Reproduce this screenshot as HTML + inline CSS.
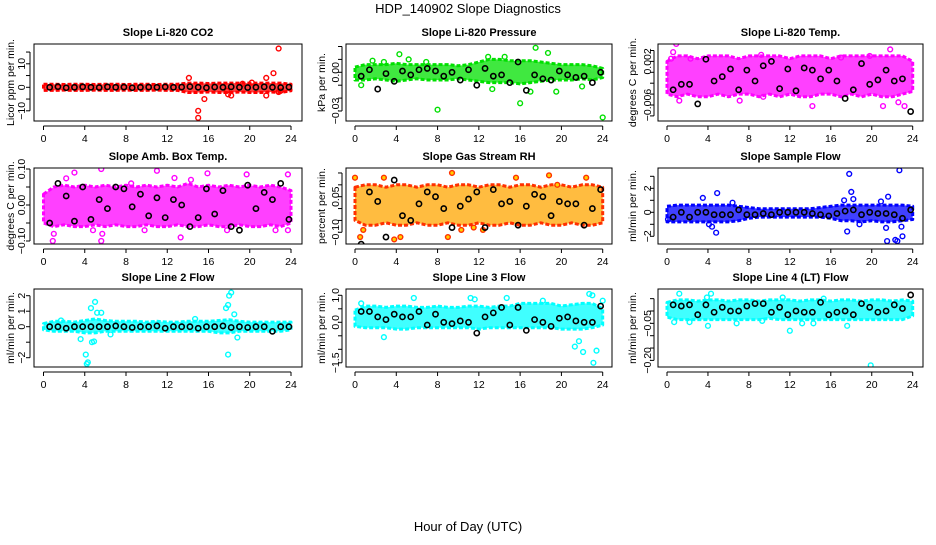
<!DOCTYPE html>
<html><head><meta charset="utf-8">
<style>
body{margin:0;background:#fff;}
svg text{font-family:"Liberation Sans",Arial,sans-serif;}
</style></head>
<body>
<svg id="chart" width="936" height="540" viewBox="0 0 936 540" xmlns="http://www.w3.org/2000/svg">
<text x="468" y="13" text-anchor="middle" font-size="13">HDP_140902  Slope Diagnostics</text>
<text x="468" y="531" text-anchor="middle" font-size="13">Hour of Day (UTC)</text>
</svg>
<script>
// ---- shared data ----
const bandHours = [0,1,2,3,4,5,6,7,8,9,10,11,12,13,14,15,16,17,18,19,20,21,22,23,24];
const blackHours = [0.6,1.4,2.2,3.0,3.8,4.6,5.4,6.2,7.0,7.8,8.6,9.4,10.2,11.0,11.8,12.6,13.4,14.2,15.0,15.8,16.6,17.4,18.2,19.0,19.8,20.6,21.4,22.2,23.0,23.8];
const xTicks = [0,4,8,12,16,20,24];

// ---- CO2 ----
const co2Lo = [-1.3,-1.3,-1.2,-1.3,-1.3,-1.2,-1.3,-1.3,-1.2,-1.3,-1.3,-1.2,-1.3,-1.3,-2.2,-2.2,-2,-2.2,-2.2,-2,-2.2,-2.2,-2,-2.2,-1.5];
const co2Hi = [1.3,1.3,1.2,1.3,1.3,1.2,1.3,1.3,1.2,1.3,1.3,1.2,1.3,1.3,1.8,1.8,1.6,1.8,1.8,1.8,1.8,1.8,1.8,1.8,1.3];
const co2Out = [[14.1,4],[15,-10],[15,-13],[15.6,-5],[17.9,-3],[18.2,-3.5],[21.6,4],[21.6,-3.5],[22.3,6],[22.8,16.5],[20.2,2],[22.8,-2],[17.8,-1.5],[19.3,1.5],[23,-1.5]];
const co2Black = [0,0.3,-0.2,0,0.2,0,-0.1,0.2,0,0.1,-0.2,0,0.1,0,0.2,0,0.1,0.3,0,-0.2,0.1,0,0.2,0,-0.1,0,0.2,0,-0.1,0.1];
// ---- Pressure ----
const presLo = [-0.006,-0.006,-0.005,-0.006,-0.007,-0.006,-0.005,-0.006,-0.006,-0.006,-0.005,-0.006,-0.007,-0.008,-0.008,-0.008,-0.009,-0.008,-0.007,-0.006,-0.006,-0.006,-0.005,-0.006,-0.004];
const presHi = [0.004,0.006,0.006,0.006,0.007,0.006,0.006,0.006,0.006,0.006,0.005,0.006,0.008,0.010,0.010,0.009,0.009,0.009,0.008,0.007,0.006,0.006,0.006,0.005,0.003];
const presOut = [[4.3,0.014],[5.2,0.010],[8,-0.029],[16,-0.024],[17.5,0.019],[18.7,0.015],[24,-0.035],[13.3,-0.013],[17,-0.015],[0.6,-0.010],[1.7,0.009],[14.5,0.012],[12.9,0.012],[19.5,-0.015],[22,-0.011],[2.8,0.008],[6.9,0.008]];
const presBlack = [-0.003,0.002,-0.013,-0.001,-0.007,0.001,-0.002,0.002,0.003,0.001,-0.003,0,-0.006,0.002,-0.010,0.003,-0.003,-0.002,-0.008,0.008,-0.014,-0.002,-0.005,-0.006,0.001,-0.002,-0.004,-0.003,-0.008,0];
// ---- Li-820 Temp ----
const tempLo = [-0.004,-0.0045,-0.004,-0.0045,-0.0045,-0.004,-0.0045,-0.004,-0.004,-0.0045,-0.004,-0.0045,-0.004,-0.0045,-0.0045,-0.004,-0.004,-0.0045,-0.004,-0.0045,-0.004,-0.0045,-0.0045,-0.004,-0.0035];
const tempHi = [0.002,0.003,0.003,0.0025,0.003,0.003,0.003,0.0025,0.003,0.003,0.003,0.003,0.0025,0.003,0.003,0.003,0.0025,0.003,0.003,0.003,0.003,0.003,0.003,0.003,0.002];
const tempOut = [[0.9,0.0052],[0.6,0.0037],[17,0.0027],[21.8,0.0042],[14.2,-0.0062],[21.1,-0.0062],[23.2,-0.0062],[7.1,-0.0052],[9.2,0.0032],[19.8,0.003],[0.4,0.0025],[1.2,-0.0052],[22.6,-0.0055],[9.4,-0.0045],[2.3,0.0025]];
const tempBlack = [-0.0032,-0.0022,-0.0022,-0.0058,0.0024,-0.0016,-0.0008,0.0006,-0.0032,0.0004,-0.0016,0.0012,0.002,-0.003,0.0006,-0.0034,0.0008,0.0004,-0.0012,0.0004,-0.0016,-0.0048,-0.0032,0.0016,-0.0022,-0.0014,0.0004,-0.0016,-0.0012,-0.0072];
// ---- Amb Box Temp ----
const ambLo = [-0.05,-0.06,-0.055,-0.06,-0.06,-0.055,-0.06,-0.055,-0.06,-0.06,-0.055,-0.06,-0.06,-0.055,-0.06,-0.06,-0.055,-0.06,-0.06,-0.055,-0.06,-0.06,-0.055,-0.06,-0.05];
const ambHi = [0.03,0.05,0.055,0.05,0.055,0.05,0.055,0.05,0.055,0.05,0.055,0.05,0.055,0.05,0.06,0.05,0.055,0.05,0.055,0.05,0.055,0.05,0.055,0.05,0.04];
const ambOut = [[0.9,-0.1],[1,-0.08],[3,0.09],[5.6,-0.1],[5.7,-0.08],[5.6,0.1],[11,0.095],[15.9,0.088],[19.7,0.085],[2.2,0.074],[13.3,-0.09],[23.7,0.085],[23.7,-0.07],[14.3,0.07],[4.8,-0.07],[9.8,-0.07],[17.8,-0.07],[12.7,0.075],[8.5,0.06],[22.5,-0.07]];
const ambBlack = [-0.05,0.06,0.025,-0.045,0.05,-0.04,0.015,-0.01,0.05,0.045,-0.005,0.03,-0.03,0.02,-0.035,0.015,0,-0.06,-0.035,0.045,-0.025,0.04,-0.06,-0.07,0.055,-0.01,0.035,0.015,0.06,-0.04];
// ---- Gas Stream RH ----
const rhLo = [-0.05,-0.07,-0.07,-0.06,-0.07,-0.07,-0.06,-0.07,-0.07,-0.06,-0.07,-0.07,-0.06,-0.07,-0.07,-0.06,-0.07,-0.07,-0.06,-0.07,-0.07,-0.06,-0.07,-0.07,-0.06];
const rhHi = [0.09,0.10,0.10,0.09,0.10,0.10,0.09,0.10,0.10,0.09,0.10,0.10,0.09,0.10,0.10,0.09,0.10,0.10,0.09,0.10,0.10,0.09,0.10,0.10,0.09];
const rhOut = [[0,0.13],[2.8,0.13],[9.4,0.15],[18.8,0.14],[22.4,0.13],[0.5,-0.12],[0.8,-0.09],[3.8,-0.13],[4.4,-0.12],[9,-0.12],[10.3,-0.09],[11.5,-0.08],[12.4,-0.09],[15.6,0.13],[19.6,0.1]];
const rhBlack = [-0.15,0.07,0.03,-0.12,0.12,-0.03,-0.05,0.02,0.07,0.05,0,-0.08,0.01,0.04,0.07,-0.08,0.08,0.02,0.03,-0.07,0.01,0.06,0.05,-0.03,0.03,0.02,0.02,-0.07,0,0.08];
// ---- Sample Flow ----
const sampLo = [-0.8,-0.8,-0.8,-0.8,-0.8,-0.8,-0.8,-0.7,-0.5,-0.4,-0.4,-0.4,-0.4,-0.4,-0.4,-0.4,-0.5,-0.7,-0.7,-0.8,-0.7,-0.8,-0.8,-0.7,-0.6];
const sampHi = [0.5,0.6,0.6,0.6,0.6,0.6,0.6,0.5,0.4,0.3,0.3,0.3,0.3,0.3,0.3,0.4,0.5,0.6,0.6,0.6,0.6,0.6,0.6,0.6,0.5];
const sampOut = [[17.8,3.2],[22.7,3.5],[18,1.7],[4.9,1.6],[3.5,1.2],[17.6,-1.6],[4.8,-1.7],[4.4,-1.2],[4.1,-1],[18.8,-1],[21.5,-2.4],[22.3,-2.3],[22.5,-2.4],[23,-2],[21.4,-1.3],[22.9,-1.2],[21.6,1.3],[17.3,1],[6.4,0.8],[20.9,0.9],[18.2,1.1],[0.1,-0.6]];
const sampBlack = [-0.4,0,-0.4,0,0,-0.2,-0.2,-0.2,0.2,-0.2,-0.2,-0.1,-0.2,0,0,0,0,-0.1,-0.2,-0.3,-0.1,0.1,0.2,-0.2,0,-0.1,-0.1,-0.2,-0.5,0.2];
// ---- Line 2 Flow ----
const l2Lo = [-0.2,-0.3,-0.3,-0.3,-0.4,-0.4,-0.3,-0.3,-0.3,-0.3,-0.3,-0.3,-0.3,-0.3,-0.3,-0.3,-0.3,-0.4,-0.4,-0.3,-0.3,-0.3,-0.3,-0.3,-0.2];
const l2Hi = [0.2,0.35,0.35,0.3,0.4,0.5,0.4,0.35,0.35,0.35,0.3,0.35,0.3,0.3,0.35,0.35,0.35,0.4,0.45,0.35,0.3,0.3,0.3,0.3,0.3];
const l2Out = [[4.1,-1.8],[4.3,-2.3],[4.2,-2.4],[4.6,1.2],[5,1.6],[5.2,0.9],[4.7,-1],[4.9,-0.95],[3.6,-0.8],[17.9,-1.8],[18,2],[18.2,2.2],[17.7,1.2],[17.9,1.4],[18.5,0.8],[18.8,-0.7],[6.5,-0.5],[1.7,0.4],[14.7,0.5],[5.6,0.9]];
const l2Black = [0,0,-0.1,0,0,0,0,0,0.05,0,-0.05,0,0,0.05,-0.1,0,0,0,-0.1,0,0,0.05,-0.05,0,-0.05,0,0,-0.3,0,0];
// ---- Line 3 Flow ----
const l3Lo = [-0.15,-0.2,-0.2,-0.2,-0.25,-0.25,-0.2,-0.2,-0.2,-0.2,-0.2,-0.2,-0.25,-0.2,-0.2,-0.2,-0.2,-0.2,-0.2,-0.2,-0.25,-0.25,-0.25,-0.2,-0.1];
const l3Hi = [0.45,0.6,0.6,0.55,0.6,0.6,0.55,0.55,0.6,0.55,0.55,0.6,0.6,0.55,0.6,0.6,0.7,0.7,0.7,0.7,0.6,0.65,0.7,0.7,0.5];
const l3Out = [[2.8,-0.55],[5.7,0.9],[11.2,0.9],[14.7,0.9],[21.3,-0.9],[21.7,-0.7],[22.1,-1.1],[23.1,-1.5],[23.4,-1.05],[22.7,1.05],[23,1],[0.6,0.7],[24,0.8],[11.6,0.85],[18.2,0.8]];
const l3Black = [0.4,0.4,0.2,0.1,0.3,0.2,0.2,0.4,-0.1,0.3,0,-0.05,0.05,0,-0.4,0.2,0.35,0.55,-0.1,0.55,-0.3,0.1,0,-0.15,0.15,0.2,0.05,0,0,0.6];
// ---- Line 4 Flow ----
const l4Lo = [-0.025,-0.035,-0.035,-0.035,-0.035,-0.035,-0.035,-0.035,-0.035,-0.035,-0.03,-0.035,-0.035,-0.035,-0.035,-0.035,-0.035,-0.035,-0.035,-0.035,-0.035,-0.035,-0.035,-0.035,-0.02];
const l4Hi = [0.035,0.045,0.045,0.04,0.045,0.045,0.04,0.045,0.045,0.04,0.045,0.045,0.045,0.04,0.045,0.045,0.04,0.045,0.045,0.04,0.045,0.045,0.04,0.045,0.04];
const l4Out = [[1.2,0.07],[4.3,0.07],[3.9,0.055],[0.7,-0.045],[4,-0.06],[6.8,-0.05],[12,-0.08],[19.9,-0.22],[17.6,-0.06],[13.2,-0.05],[14.3,-0.05],[9.3,-0.04],[2.2,-0.045],[11.3,0.055],[15.3,0.05]];
const l4Black = [0.025,0.02,0.025,-0.015,0.025,-0.005,0.015,0,0,0.02,0.03,0.03,-0.005,0.015,-0.015,0,-0.005,-0.005,0.035,-0.015,-0.005,0,-0.015,0.03,0.015,-0.005,0,0.025,0.01,0.065];

// ---- layout (pixels, not data) ----
const cols = [{l:34,r:302,x0:43.5,x24:291,yl:21,yt:10},{l:346,r:612,x0:355,x24:602.7,yl:335,yt:321},{l:658,r:923,x0:667,x24:912.7,yl:647,yt:632}];
const rows = [{t:44,b:121,tt:36},{t:168,b:244,tt:160},{t:289,b:367,tt:281}];
const panels = [
 {c:0,r:0,key:'co2',title:'Slope Li-820 CO2',ylab:'Licor ppm per min.',col:'#ff0000',lo:co2Lo,hi:co2Hi,out:co2Out,blk:co2Black,ref:[0,87.3,10,63.8],ticks:[15,10,5,0,-5,-10],labs:[10,0,-10],fmt:v=>v<0?'\u2212'+(-v):String(v)},
 {c:1,r:0,key:'pressure',title:'Slope Li-820 Pressure',ylab:'kPa per min.',col:'#00e000',lo:presLo,hi:presHi,out:presOut,blk:presBlack,ref:[0,72.3,-0.03,111],ticks:[0.02,0.01,0,-0.01,-0.02,-0.03],labs:[0,-0.03],fmt:v=>v<0?'\u2212'+(-v).toFixed(2):v.toFixed(2)},
 {c:2,r:0,key:'temp',title:'Slope Li-820 Temp.',ylab:'degrees C per min.',col:'#ff00ff',lo:tempLo,hi:tempHi,out:tempOut,blk:tempBlack,ref:[0,72.3,-0.006,105],ticks:[0.004,0.002,0,-0.002,-0.004,-0.006,-0.008],labs:[0.002,-0.006],fmt:v=>v<0?'\u2212'+(-v).toFixed(3):v.toFixed(3)},
 {c:0,r:1,key:'ambbox',title:'Slope Amb. Box Temp.',ylab:'degrees C per min.',col:'#ff00ff',lo:ambLo,hi:ambHi,out:ambOut,blk:ambBlack,ref:[0,205,0.1,169],ticks:[0.1,0.05,0,-0.05,-0.1],labs:[0.1,0,-0.1],fmt:v=>v<0?'\u2212'+(-v).toFixed(2):v.toFixed(2)},
 {c:1,r:1,key:'rh',title:'Slope Gas Stream RH',ylab:'percent per min.',col:'#ffa500',edge:'#ff3000',lo:rhLo,hi:rhHi,out:rhOut,blk:rhBlack,ref:[0.05,196.7,-0.1,232.3],ticks:[0.15,0.1,0.05,0,-0.05,-0.1],labs:[0.05,-0.1],fmt:v=>v<0?'\u2212'+(-v).toFixed(2):v.toFixed(2)},
 {c:2,r:1,key:'sampleflow',title:'Slope Sample Flow',ylab:'ml/min per min.',col:'#0000ff',lo:sampLo,hi:sampHi,out:sampOut,blk:sampBlack,ref:[0,212.3,2,188.3],ticks:[3,2,1,0,-1,-2],labs:[2,0,-2],fmt:v=>v<0?'\u2212'+(-v):String(v)},
 {c:0,r:2,key:'line2',title:'Slope Line 2 Flow',ylab:'ml/min per min.',col:'#00ffff',lo:l2Lo,hi:l2Hi,out:l2Out,blk:l2Black,ref:[0,326.7,2,295.7],ticks:[2,1,0,-1,-2],labs:[2,1,0,-2],fmt:v=>v<0?'\u2212'+(-v):String(v)},
 {c:1,r:2,key:'line3',title:'Slope Line 3 Flow',ylab:'ml/min per min.',col:'#00ffff',lo:l3Lo,hi:l3Hi,out:l3Out,blk:l3Black,ref:[0,322.3,1,295.3],ticks:[1,0.5,0,-0.5,-1,-1.5],labs:[1,0,-1.5],fmt:v=>v<0?'\u2212'+(-v).toFixed(1):v.toFixed(1)},
 {c:2,r:2,key:'line4',title:'Slope Line 4 (LT) Flow',ylab:'ml/min per min.',col:'#00ffff',lo:l4Lo,hi:l4Hi,out:l4Out,blk:l4Black,ref:[0,311,-0.2,360.4],ticks:[0.05,0,-0.05,-0.1,-0.15,-0.2],labs:[-0.05,-0.2],fmt:v=>v<0?'\u2212'+(-v).toFixed(2):v.toFixed(2)}
];

const svg = document.getElementById('chart');
const NS = 'http://www.w3.org/2000/svg';
function mk(tag, attrs, parent){const e=document.createElementNS(NS,tag);for(const k in attrs)e.setAttribute(k,attrs[k]);(parent||svg).appendChild(e);return e;}

panels.forEach(p=>{
  const C=cols[p.c], R=rows[p.r];
  const g=mk('g',{});
  
  
  const xs=h=>C.x0+(C.x24-C.x0)*h/24;
  const [v0,p0,v1,p1]=p.ref;
  const ys=v=>p0+(p1-p0)*(v-v0)/(v1-v0);
  const clip='clip-'+p.key;
  const cp=mk('clipPath',{id:clip},g); mk('rect',{x:C.l,y:R.t,width:C.r-C.l,height:R.b-R.t},cp);
  const plot=mk('g',{'clip-path':'url(#'+clip+')'},g);
  let d='';
  bandHours.forEach((h,i)=>{d+=(i?'L':'M')+xs(h).toFixed(1)+','+ys(p.hi[i]).toFixed(1);});
  for(let i=bandHours.length-1;i>=0;i--) d+='L'+xs(bandHours[i]).toFixed(1)+','+ys(p.lo[i]).toFixed(1);
  const band=mk('path',{d:d+'Z',fill:p.col,'fill-opacity':0.75,stroke:p.edge||p.col,'stroke-width':3,'stroke-linejoin':'round','stroke-dasharray':'4 2'},plot);
  
  
  p.out.forEach(([h,v])=>{
    const c=mk('circle',{cx:xs(h),cy:ys(v),r:2.4,fill:p.edge?'#ffd000':'none',stroke:p.edge||p.col,'stroke-width':1.4},plot);
    
    
  });
  blackHours.forEach((h,i)=>{
    const c=mk('circle',{cx:xs(h),cy:ys(p.blk[i]),r:2.6,fill:'none',stroke:'#000','stroke-width':1.6},plot);
    
    
  });
  const box=mk('rect',{x:C.l,y:R.t,width:C.r-C.l,height:R.b-R.t,fill:'none',stroke:'#000','stroke-width':1},g);
  
  
  const t=mk('text',{x:(C.l+C.r)/2,y:R.tt,'text-anchor':'middle','font-size':11,'font-weight':'bold'},g);
  t.textContent=p.title;
  
  
  const ax=R.b+5;
  mk('line',{x1:xs(0),x2:xs(24),y1:ax,y2:ax,stroke:'#000'},g);
  xTicks.forEach(h=>{
    mk('line',{x1:xs(h),x2:xs(h),y1:ax,y2:ax+4,stroke:'#000'},g);
    const tl=mk('text',{x:xs(h),y:ax+16,'text-anchor':'middle','font-size':10.5},g);
    tl.textContent=h;
    
    
  });
  const axx=C.l-4;
  const ty=p.ticks.map(ys);
  mk('line',{x1:axx,x2:axx,y1:Math.min(...ty),y2:Math.max(...ty),stroke:'#000'},g);
  p.ticks.forEach(v=>mk('line',{x1:axx-4,x2:axx,y1:ys(v),y2:ys(v),stroke:'#000'},g));
  p.labs.forEach(v=>{
    const tl=mk('text',{x:0,y:0,'text-anchor':'middle','font-size':10.5,transform:`translate(${C.yl+4},${ys(v)}) rotate(-90)`},g);
    tl.textContent=p.fmt(v);
    
    
  });
  const yl=mk('text',{x:0,y:0,'text-anchor':'middle','font-size':10.5,transform:`translate(${C.yt+4},${(R.t+R.b)/2}) rotate(-90)`},g);
  yl.textContent=p.ylab;
  
  
});
</script>
</body></html>
